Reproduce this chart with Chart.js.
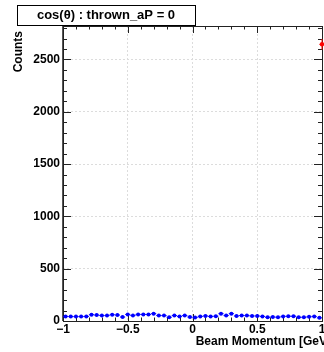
<!DOCTYPE html>
<html lang="en">
<head>
<meta charset="UTF-8">
<title>cos(theta) : thrown_aP = 0</title>
<script src="https://cdn.jsdelivr.net/npm/chart.js@4.4.1/dist/chart.umd.min.js"></script>
<style>
  html, body { margin: 0; padding: 0; background: #fff; overflow: hidden; }
  #wrap { width: 324px; height: 352px; overflow: hidden; }
  canvas { display: block; }
</style>
</head>
<body>
<div id="wrap"><canvas id="cosChart" width="345" height="352"></canvas></div>
<script>
// bin centres of the cos(theta) histogram (bin width 0.04)
var binCenters = [-0.98, -0.94, -0.90, -0.86, -0.82, -0.78, -0.74, -0.70, -0.66, -0.62,
                  -0.58, -0.54, -0.50, -0.46, -0.42, -0.38, -0.34, -0.30, -0.26, -0.22,
                  -0.18, -0.14, -0.10, -0.06, -0.02, 0.02, 0.06, 0.10, 0.14, 0.18,
                  0.22, 0.26, 0.30, 0.34, 0.38, 0.42, 0.46, 0.50, 0.54, 0.58,
                  0.62, 0.66, 0.70, 0.74, 0.78, 0.82, 0.86, 0.90, 0.94, 0.98];
var recoCounts = [44, 42, 42, 42, 44, 60, 57, 52, 52, 60,
                  57, 38, 63, 52, 63, 63, 63, 70, 52, 52,
                  36, 52, 44, 52, 38, 33, 44, 48, 44, 46,
                  70, 52, 70, 48, 52, 52, 48, 48, 44, 36,
                  38, 36, 44, 46, 46, 36, 36, 40, 44, 30];
var thrownX = [1.0];
var thrownCounts = [2645];

var xTicks = [-1, -0.5, 0, 0.5, 1];
var yTicks = [0, 500, 1000, 1500, 2000, 2500];
var binHalfWidth = 0.02;

var FONT = "'Liberation Sans', Arial, Helvetica, sans-serif";

function points(xs, ys) {
    var out = [];
    for (var i = 0; i < xs.length; i++) out.push({x: xs[i], y: ys[i]});
    return out;
}

// frame, ROOT style inward ticks, error bars and the titles
var rootStyle = {
    id: 'rootStyle',
    beforeDatasetsDraw: function(chart) {
        var ctx = chart.ctx, a = chart.chartArea, xs = chart.scales.x, ys = chart.scales.y;
        ctx.save();
        ctx.lineWidth = 1;

        ctx.strokeStyle = '#555';
        ctx.beginPath();
        ctx.moveTo(a.left + 0.5, a.top); ctx.lineTo(a.left + 0.5, a.bottom);
        ctx.moveTo(a.left - 0.5, a.top); ctx.lineTo(a.left - 0.5, a.bottom);
        ctx.stroke();
        ctx.strokeStyle = '#222';
        ctx.strokeRect(a.left + 0.5, a.top + 0.5, a.right - a.left, a.bottom - a.top);

        ctx.beginPath();
        var v, px, len;
        for (var k = -10; k <= 10; k++) {
            v = k / 10;
            px = Math.round(xs.getPixelForValue(v)) + 0.5;
            len = (k % 5 === 0) ? 7 : 3.5;
            ctx.moveTo(px, a.bottom); ctx.lineTo(px, a.bottom - len);
            ctx.moveTo(px, a.top); ctx.lineTo(px, a.top + len);
        }
        for (var j = 0; j <= 28; j++) {
            v = j * 100;
            if (v > ys.max) break;
            var py = Math.round(ys.getPixelForValue(v)) + 0.5;
            len = (j % 5 === 0) ? 8 : 4;
            ctx.moveTo(a.left, py); ctx.lineTo(a.left + len, py);
            ctx.moveTo(a.right, py); ctx.lineTo(a.right - len, py);
        }
        ctx.stroke();

        chart.data.datasets.forEach(function(ds) {
            ctx.strokeStyle = ds.borderColor;
            ds.data.forEach(function(p) {
                var px = xs.getPixelForValue(p.x), py = ys.getPixelForValue(p.y);
                var err = Math.sqrt(p.y);
                ctx.beginPath();
                ctx.moveTo(xs.getPixelForValue(p.x - binHalfWidth), py);
                ctx.lineTo(xs.getPixelForValue(p.x + binHalfWidth), py);
                ctx.moveTo(px, ys.getPixelForValue(p.y - err));
                ctx.lineTo(px, ys.getPixelForValue(p.y + err));
                ctx.stroke();
            });
        });
        ctx.restore();
    },
    afterDraw: function(chart) {
        var ctx = chart.ctx;
        ctx.save();

        // axis titles
        ctx.fillStyle = '#000';
        ctx.font = 'bold 12px ' + FONT;
        ctx.textAlign = 'right';
        ctx.textBaseline = 'middle';
        ctx.fillText('Beam Momentum [GeV]', 331, 342);

        ctx.save();
        ctx.translate(19, 31);
        ctx.rotate(-Math.PI / 2);
        ctx.font = 'bold 12px ' + FONT;
        ctx.textAlign = 'right';
        ctx.fillText('Counts', 0, 0);
        ctx.restore();

        // histogram title box
        ctx.fillStyle = '#fff';
        ctx.fillRect(17, 5, 178, 20);
        ctx.strokeStyle = '#000';
        ctx.strokeRect(17.5, 5.5, 178, 20);
        ctx.fillStyle = '#000';
        ctx.font = 'bold 13px ' + FONT;
        ctx.textAlign = 'center';
        ctx.fillText('cos(\u03b8) : thrown_aP = 0', 106, 15.5);
        ctx.restore();
    }
};

var ctx = document.getElementById('cosChart').getContext('2d');
var chart = new Chart(ctx, {
    type: 'scatter',
    data: {
        datasets: [
            {
                label: 'reconstructed',
                data: points(binCenters, recoCounts),
                backgroundColor: '#0000ff',
                borderColor: '#0000ff',
                pointRadius: 2,
                pointBorderWidth: 0,
                clip: false
            },
            {
                label: 'thrown',
                data: points(thrownX, thrownCounts),
                backgroundColor: '#ff0000',
                borderColor: '#ff0000',
                pointRadius: 2.2,
                pointBorderWidth: 0,
                clip: false
            }
        ]
    },
    options: {
        responsive: false,
        animation: false,
        layout: { padding: { left: 0, top: 26, right: 23, bottom: 0 } },
        plugins: { legend: { display: false }, tooltip: { enabled: false } },
        scales: {
            x: {
                type: 'linear',
                min: -1,
                max: 1,
                afterBuildTicks: function(s) { s.ticks = xTicks.map(function(v) { return {value: v}; }); },
                afterFit: function(s) { s.height = 31; s.paddingLeft = 0; s.paddingRight = 0; },
                grid: { color: '#dcdcdc', drawTicks: false, lineWidth: 1 },
                border: { display: false, dash: [2, 2] },
                ticks: {
                    padding: 1,
                    maxRotation: 0,
                    autoSkip: false,
                    color: '#000',
                    font: { family: FONT, size: 12, weight: 'bold' },
                    callback: function(v) { return String(v).replace('-', '\u2212'); }
                }
            },
            y: {
                type: 'linear',
                min: 0,
                max: 2820,
                afterBuildTicks: function(s) { s.ticks = yTicks.map(function(v) { return {value: v}; }); },
                afterFit: function(s) { s.width = 63; s.paddingTop = 0; s.paddingBottom = 0; },
                grid: { color: '#dcdcdc', drawTicks: false, lineWidth: 1 },
                border: { display: false, dash: [2, 2] },
                ticks: {
                    padding: 3,
                    autoSkip: false,
                    color: '#000',
                    font: { family: FONT, size: 12, weight: 'bold' },
                    callback: function(v) { return String(v); }
                }
            }
        }
    },
    plugins: [rootStyle]
});
</script>
</body>
</html>
